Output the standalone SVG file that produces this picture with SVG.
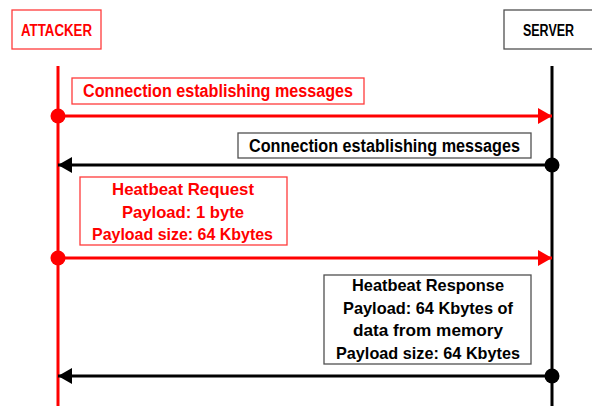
<svg xmlns="http://www.w3.org/2000/svg" width="592" height="406" viewBox="0 0 592 406">
  <style>
    .lbl { font-family: "Liberation Sans", Arial, sans-serif; font-weight: bold; text-anchor: middle; }
    .red { fill: #ff0000; }
    .blk { fill: #000000; }
    .boxr { fill: #ffffff; stroke: #ff3b3b; stroke-width: 1.3; }
    .boxk { fill: #ffffff; stroke: #505050; stroke-width: 1.3; }
    .lr { stroke: #ff0000; stroke-width: 3; fill: none; }
    .lk { stroke: #000000; stroke-width: 3; fill: none; }
  </style>
  <defs>
    <marker id="headR" markerUnits="userSpaceOnUse" markerWidth="16" markerHeight="18" refX="15" refY="9" orient="auto">
      <path d="M1,1 L15,9 L1,17 Z" fill="#ff0000"/>
    </marker>
    <marker id="headK" markerUnits="userSpaceOnUse" markerWidth="16" markerHeight="18" refX="15" refY="9" orient="auto">
      <path d="M1,1 L15,9 L1,17 Z" fill="#000000"/>
    </marker>
  </defs>
  <rect width="592" height="406" fill="#ffffff"/>

  <!-- participants -->
  <g id="attacker">
    <rect class="boxr" x="12" y="10" width="89" height="39"/>
    <text class="lbl red" x="56.5" y="35.5" font-size="16" textLength="71" lengthAdjust="spacingAndGlyphs">ATTACKER</text>
  </g>
  <g id="server">
    <rect class="boxk" x="504" y="10" width="95" height="39"/>
    <text class="lbl blk" x="548.5" y="35.5" font-size="16" textLength="51" lengthAdjust="spacingAndGlyphs">SERVER</text>
  </g>

  <!-- message labels -->
  <g id="msg1">
    <rect class="boxr" x="72" y="78" width="292" height="26"/>
    <text class="lbl red" x="218" y="97" font-size="17.5" textLength="270" lengthAdjust="spacingAndGlyphs">Connection establishing messages</text>
  </g>
  <g id="msg2">
    <rect class="boxk" x="238" y="133" width="293" height="25"/>
    <text class="lbl blk" x="384.5" y="152" font-size="17.5" textLength="271" lengthAdjust="spacingAndGlyphs">Connection establishing messages</text>
  </g>
  <g id="msg3">
    <rect class="boxr" x="80" y="177" width="207" height="68"/>
    <text class="lbl red" x="183" y="195" font-size="16.5" textLength="142" lengthAdjust="spacingAndGlyphs">Heatbeat Request</text>
    <text class="lbl red" x="183" y="217.7" font-size="16.5" textLength="122" lengthAdjust="spacingAndGlyphs">Payload: 1 byte</text>
    <text class="lbl red" x="182.5" y="240" font-size="16.5" textLength="181" lengthAdjust="spacingAndGlyphs">Payload size: 64 Kbytes</text>
  </g>
  <g id="msg4">
    <rect class="boxk" x="324" y="275" width="207" height="89"/>
    <text class="lbl blk" x="428" y="291" font-size="16.5" textLength="152" lengthAdjust="spacingAndGlyphs">Heatbeat Response</text>
    <text class="lbl blk" x="428" y="313.5" font-size="16.5" textLength="170" lengthAdjust="spacingAndGlyphs">Payload: 64 Kbytes of</text>
    <text class="lbl blk" x="428" y="336" font-size="16.5" textLength="150" lengthAdjust="spacingAndGlyphs">data from memory</text>
    <text class="lbl blk" x="428" y="359" font-size="16.5" textLength="184" lengthAdjust="spacingAndGlyphs">Payload size: 64 Kbytes</text>
  </g>

  <!-- lifelines and messages -->
  <g id="connectors">
    <line class="lr" x1="58" y1="66" x2="58" y2="406"/>
    <line class="lk" x1="552" y1="66" x2="552" y2="406"/>

    <line class="lr" x1="58" y1="116" x2="552" y2="116" marker-end="url(#headR)"/>
    <circle cx="58" cy="116" r="7.5" fill="#ff0000"/>

    <line class="lk" x1="552" y1="165" x2="58" y2="165" marker-end="url(#headK)"/>
    <circle cx="552" cy="165" r="7.5" fill="#000000"/>

    <line class="lr" x1="58" y1="258" x2="552" y2="258" marker-end="url(#headR)"/>
    <circle cx="58" cy="258" r="7.5" fill="#ff0000"/>

    <line class="lk" x1="552" y1="376" x2="58" y2="376" marker-end="url(#headK)"/>
    <circle cx="552" cy="376" r="7.5" fill="#000000"/>
  </g>
</svg>
